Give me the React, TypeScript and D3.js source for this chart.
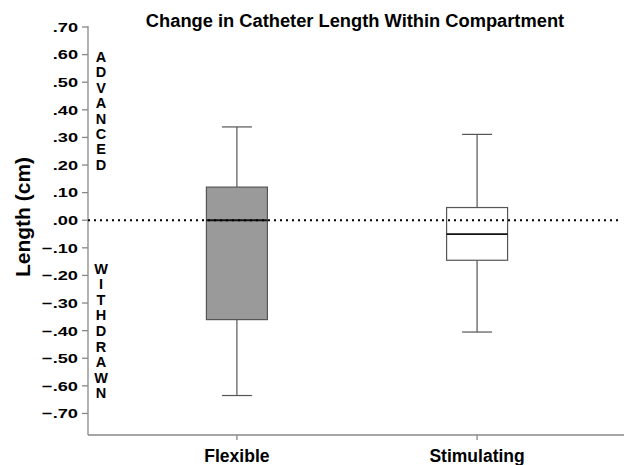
import React from 'react'
import * as d3 from 'd3'

const categories = ['Flexible', 'Stimulating']
const whiskerLow = [-0.635, -0.405]
const q1 = [-0.36, -0.145]
const median = [0.0, -0.05]
const q3 = [0.12, 0.046]
const whiskerHigh = [0.338, 0.311]
const fills = ['#9a9a9a', '#ffffff']
const yTicks = [0.7, 0.6, 0.5, 0.4, 0.3, 0.2, 0.1, 0, -0.1, -0.2, -0.3, -0.4, -0.5, -0.6, -0.7]
const upperWord = 'ADVANCED'
const lowerWord = 'WITHDRAWN'

const W = 624
const H = 465
const left = 88
const right = 624
const top = 27
const bottom = 435

const fmt = (v: number) => d3.format('.2f')(v).replace('0.', '.')

export default function App() {
	const y = d3.scaleLinear().domain([0.7, -0.778]).range([top, bottom])
	const x = d3.scalePoint<string>().domain(categories).range([left, right + 2]).padding(0.62)
	const boxW = 61
	const capW = 30
	const font = 'Arial, "Liberation Sans", Helvetica, sans-serif'

	return (
		<svg width={W} height={H} style={{ position: 'absolute', left: 0, top: 0 }} fontFamily={font}>
			<rect width={W} height={H} fill='#fff' />
			<text x={355} y={26.5} textAnchor='middle' fontSize={18.3} fontWeight='bold'>
				Change in Catheter Length Within Compartment
			</text>
			<text
				transform={`translate(30, ${217}) rotate(-90)`}
				textAnchor='middle'
				fontSize={21}
				fontWeight='bold'
			>
				Length (cm)
			</text>

			{/* y axis */}
			<line x1={left} x2={left} y1={top - 1} y2={bottom} stroke='#888' strokeWidth={1.3} />
			{yTicks.map(t => (
				<g key={t}>
					<line x1={left - 6} x2={left} y1={y(t)} y2={y(t)} stroke='#888' strokeWidth={1.3} />
					<text
						transform={`translate(${left - 10}, ${y(t)}) scale(1.35, 1)`}
						dy='0.36em'
						textAnchor='end'
						fontSize={13.5}
						fontWeight='bold'
					>
						{fmt(t)}
					</text>
				</g>
			))}

			{/* x axis */}
			<line x1={left} x2={right} y1={bottom} y2={bottom} stroke='#888' strokeWidth={1.3} />
			{categories.map(c => (
				<g key={c}>
					<line x1={x(c)} x2={x(c)} y1={bottom} y2={bottom + 5} stroke='#888' strokeWidth={1.3} />
					<text x={x(c)} y={bottom + 27} textAnchor='middle' fontSize={17.5} fontWeight='bold'>
						{c}
					</text>
				</g>
			))}

			{/* vertical words */}
			{upperWord.split('').map((ch, i) => (
				<text key={'u' + i} x={101} y={62 + i * 15.4} textAnchor='middle' fontSize={14.5} fontWeight='bold'>
					{ch}
				</text>
			))}
			{lowerWord.split('').map((ch, i) => (
				<text key={'l' + i} x={101} y={273.5 + i * 15.6} textAnchor='middle' fontSize={14.5} fontWeight='bold'>
					{ch}
				</text>
			))}

			{/* boxes */}
			{categories.map((c, i) => {
				const cx = x(c) as number
				return (
					<g key={c}>
						<line x1={cx} x2={cx} y1={y(whiskerHigh[i])} y2={y(q3[i])} stroke='#555' strokeWidth={1.2} />
						<line x1={cx} x2={cx} y1={y(q1[i])} y2={y(whiskerLow[i])} stroke='#555' strokeWidth={1.2} />
						<line x1={cx - capW / 2} x2={cx + capW / 2} y1={y(whiskerHigh[i])} y2={y(whiskerHigh[i])} stroke='#555' strokeWidth={1.2} />
						<line x1={cx - capW / 2} x2={cx + capW / 2} y1={y(whiskerLow[i])} y2={y(whiskerLow[i])} stroke='#555' strokeWidth={1.2} />
						<rect
							x={cx - boxW / 2}
							y={y(q3[i])}
							width={boxW}
							height={y(q1[i]) - y(q3[i])}
							fill={fills[i]}
							stroke='#555'
							strokeWidth={1.2}
						/>
						<line x1={cx - boxW / 2} x2={cx + boxW / 2} y1={y(median[i])} y2={y(median[i])} stroke='#111' strokeWidth={1.8} />
					</g>
				)
			})}

			{/* zero reference */}
			<line x1={left} x2={right - 2} y1={y(0)} y2={y(0)} stroke='#000' strokeWidth={2} strokeDasharray='2,4' />
		</svg>
	)
}
